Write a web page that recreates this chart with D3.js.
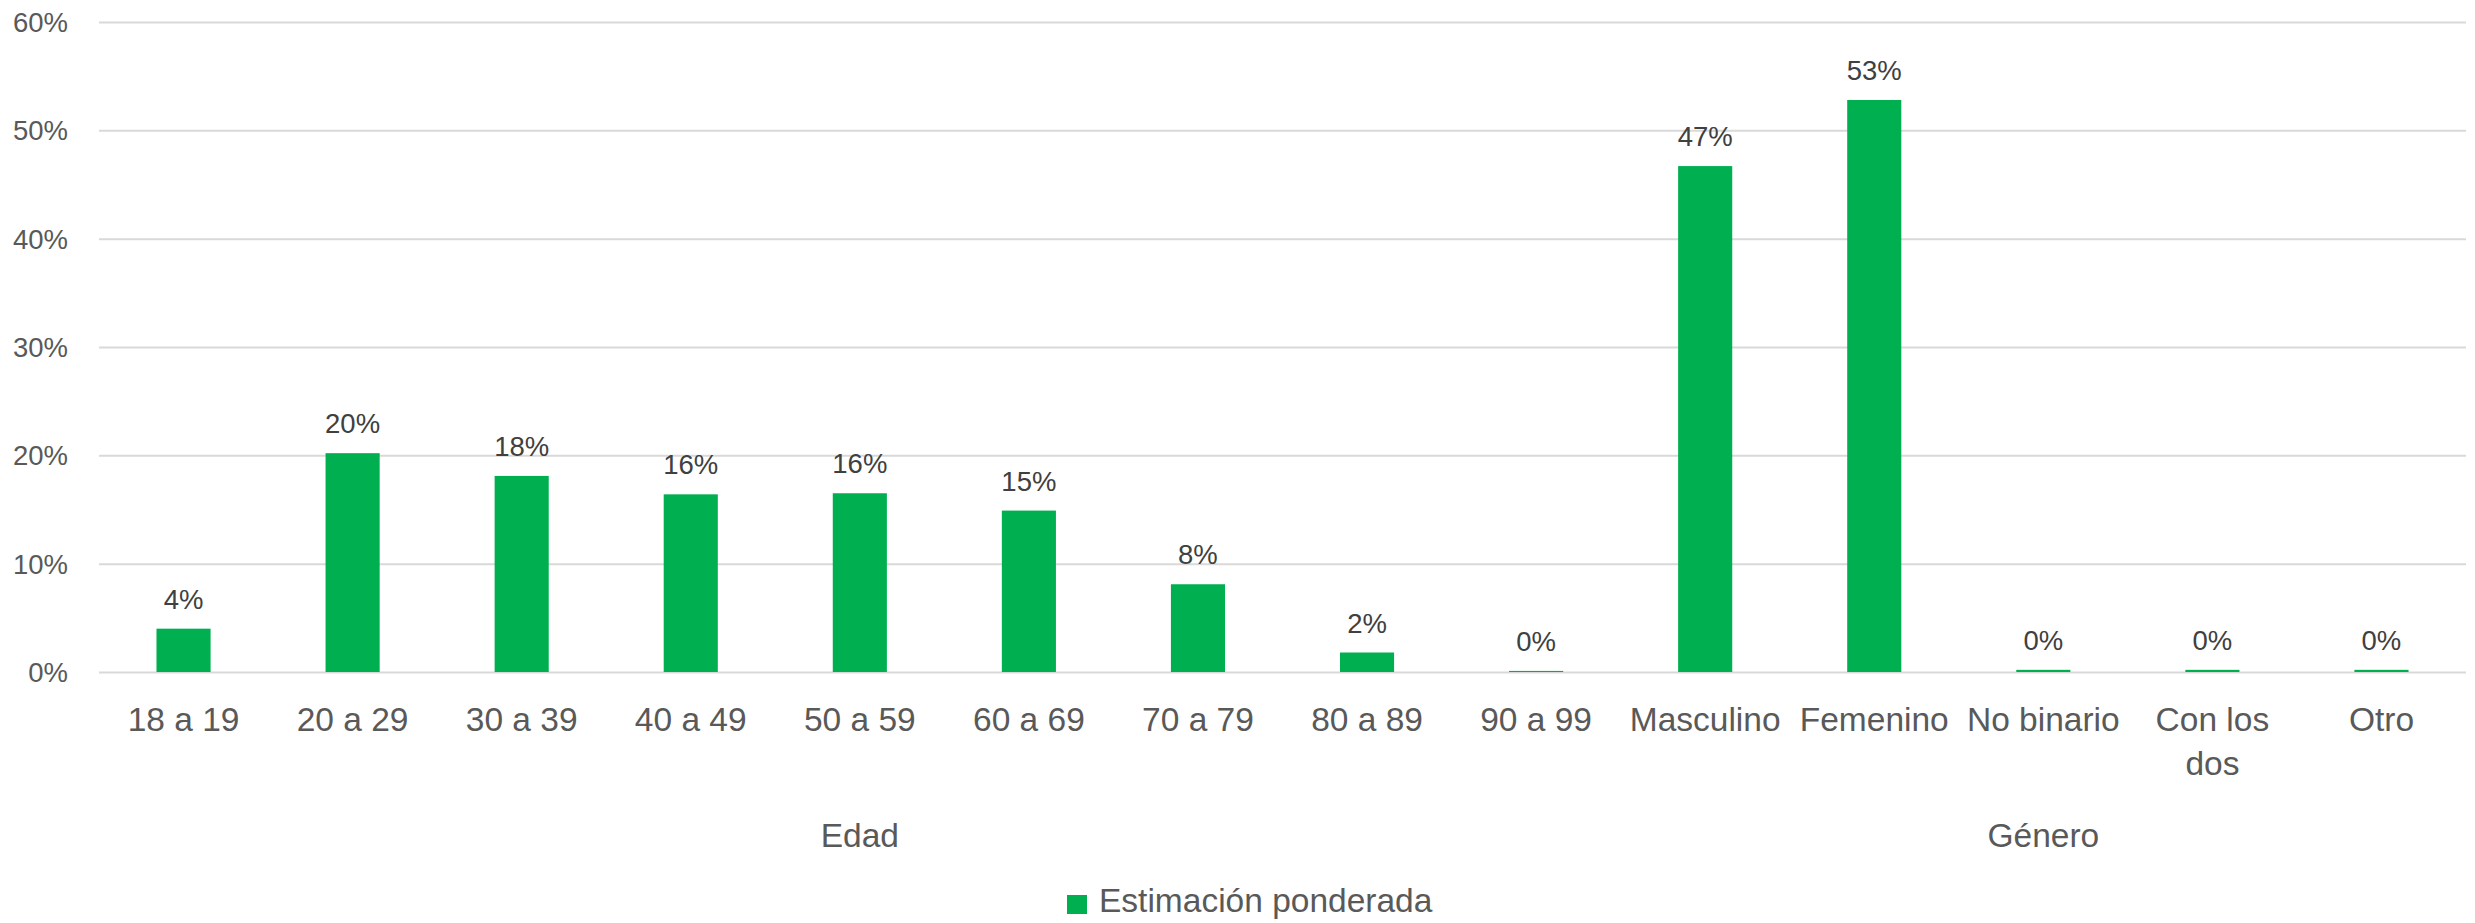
<!DOCTYPE html>
<html>
<head>
<meta charset="utf-8">
<script src="https://cdnjs.cloudflare.com/ajax/libs/d3/7.8.5/d3.min.js"></script>
<style>
  html, body { margin: 0; padding: 0; background: #ffffff; }
  svg { display: block; }
  text { font-family: "Liberation Sans", Arial, sans-serif; }
</style>
</head>
<body>
<svg id="chart" width="2475" height="923"></svg>
<script>
// ---- Data ----
const categories = ["18 a 19", "20 a 29", "30 a 39", "40 a 49", "50 a 59", "60 a 69", "70 a 79", "80 a 89", "90 a 99",
                    "Masculino", "Femenino", "No binario", "Con los dos", "Otro"];
const groups = ["Edad", "Edad", "Edad", "Edad", "Edad", "Edad", "Edad", "Edad", "Edad",
                "Género", "Género", "Género", "Género", "Género"];
const values = [4.0, 20.2, 18.1, 16.4, 16.5, 14.9, 8.1, 1.8, 0.1, 46.7, 52.8, 0.2, 0.2, 0.2];
const valueLabels = ["4%", "20%", "18%", "16%", "16%", "15%", "8%", "2%", "0%", "47%", "53%", "0%", "0%", "0%"];
const yTicks = [0, 10, 20, 30, 40, 50, 60];
const seriesName = "Estimación ponderada";

// ---- Layout ----
const svg = d3.select("#chart");
const plotLeft = 99, plotRight = 2466, plotTop = 22, plotBottom = 672;
const green = "#00b050";

const x = d3.scaleBand().domain(categories).range([plotLeft, plotRight]).paddingInner(0.68).paddingOuter(0.34);
const y = d3.scaleLinear().domain([0, 60]).range([plotBottom, plotTop]);

// gridlines
const yAxis = d3.axisLeft(y).tickValues(yTicks).tickFormat(d => d + "%").tickSize(-(plotRight - plotLeft)).tickPadding(31);
const gy = svg.append("g").attr("transform", `translate(${plotLeft},0)`).call(yAxis);
gy.select(".domain").remove();
gy.selectAll(".tick line").attr("stroke", "#d9d9d9").attr("stroke-width", 2);
gy.selectAll(".tick text").attr("fill", "#595959").attr("font-size", 27.5).attr("font-family", "Liberation Sans, Arial, sans-serif").attr("dy", "0.35em");

// bars
svg.append("g").selectAll("rect").data(values).join("rect")
  .attr("x", (d, i) => x(categories[i]))
  .attr("width", x.bandwidth())
  .attr("y", d => y(d))
  .attr("height", d => y(0) - y(d))
  .attr("fill", green);

// value labels
svg.append("g").selectAll("text").data(values).join("text")
  .attr("x", (d, i) => x(categories[i]) + x.bandwidth() / 2)
  .attr("y", d => y(d) - 20)
  .attr("text-anchor", "middle")
  .attr("fill", "#404040")
  .attr("font-size", 27.5)
  .text((d, i) => valueLabels[i]);

// category labels (wrap "Con los dos")
const catLines = c => c === "Con los dos" ? ["Con los", "dos"] : [c];
const catG = svg.append("g");
categories.forEach(c => {
  const t = catG.append("text")
    .attr("x", x(c) + x.bandwidth() / 2)
    .attr("y", 731)
    .attr("text-anchor", "middle")
    .attr("fill", "#595959")
    .attr("font-size", 33.5);
  catLines(c).forEach((ln, k) => {
    t.append("tspan").attr("x", x(c) + x.bandwidth() / 2).attr("dy", k === 0 ? 0 : 44).text(ln);
  });
});

// group labels
const groupNames = Array.from(new Set(groups));
groupNames.forEach(g => {
  const members = categories.filter((c, i) => groups[i] === g);
  const x0 = x(members[0]) - x.step() * x.paddingInner() / 2;
  const x1 = x(members[members.length - 1]) + x.bandwidth() + x.step() * x.paddingInner() / 2;
  svg.append("text")
    .attr("x", (x0 + x1) / 2)
    .attr("y", 847)
    .attr("text-anchor", "middle")
    .attr("fill", "#595959")
    .attr("font-size", 33.5)
    .text(g);
});

// legend
const lg = svg.append("g");
lg.append("rect").attr("x", 1067).attr("y", 895).attr("width", 20).attr("height", 19).attr("fill", green);
lg.append("text").attr("x", 1099).attr("y", 912).attr("fill", "#595959").attr("font-size", 33.5).text(seriesName);
</script>
</body>
</html>
